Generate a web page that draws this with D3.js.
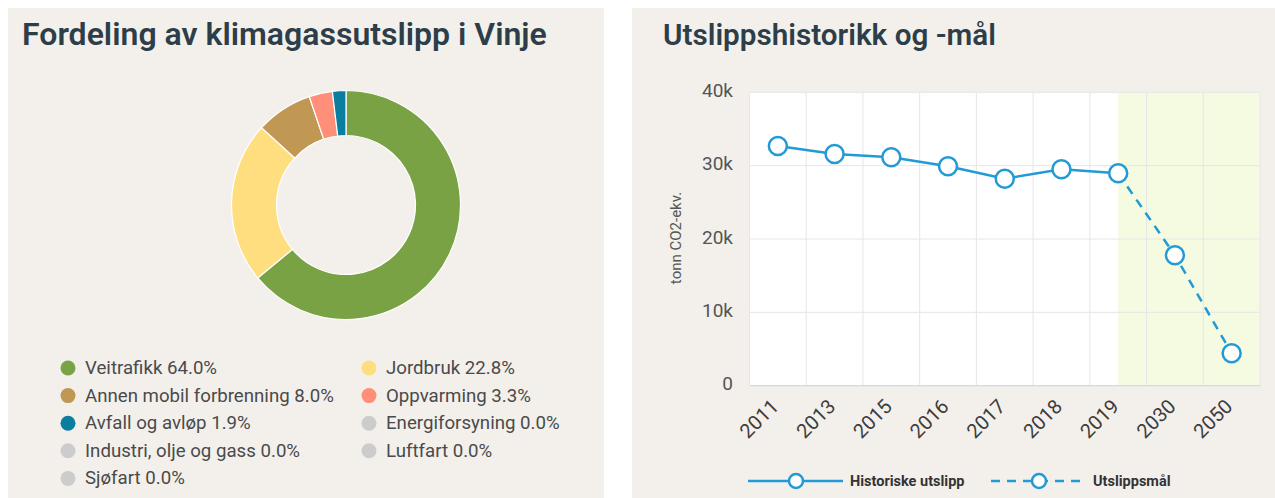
<!DOCTYPE html>
<html><head><meta charset="utf-8">
<script src="https://cdn.jsdelivr.net/npm/d3@7/dist/d3.min.js"></script>
<style>
html,body{margin:0;padding:0;background:#fff;}
svg{display:block;font-family:Roboto,"Noto Sans",sans-serif;}
</style></head>
<body>
<svg id="c" width="1275" height="498"></svg>
<script>
// ---- data ----
const sectors = ["Veitrafikk","Jordbruk","Annen mobil forbrenning","Oppvarming","Avfall og avløp","Energiforsyning","Industri, olje og gass","Luftfart","Sjøfart"];
const sectorShares = [64.0,22.8,8.0,3.3,1.9,0.0,0.0,0.0,0.0];
const sectorColors = ["#78a243","#ffde80","#c09753","#ff8f78","#0b7d9e","#cccccc","#cccccc","#cccccc","#cccccc"];

const years = ["2011","2013","2015","2016","2017","2018","2019","2030","2050"];
const histYears = ["2011","2013","2015","2016","2017","2018","2019"];
const histValues = [32680,31590,31140,29930,28220,29500,28960];
const goalYears = ["2019","2030","2050"];
const goalValues = [28960,17780,4420];
const yTicks = [0,10000,20000,30000,40000];
const seriesNames = ["Historiske utslipp","Utslippsmål"];

const svg = d3.select("#c");
const bg = "#f3f0ec";
const titleColor = "#2e3e48";

// panels
svg.append("rect").attr("x",8).attr("y",8).attr("width",596).attr("height",490).attr("fill",bg);
svg.append("rect").attr("x",632).attr("y",8).attr("width",643).attr("height",490).attr("fill",bg);

function fit(sel, target){
  const w = sel.node().getComputedTextLength();
  const fs = parseFloat(sel.attr("font-size"));
  sel.attr("font-size", fs*target/w);
}

// titles
const t1 = svg.append("text").attr("x",22).attr("y",45).attr("font-size",28).attr("font-weight",600)
  .attr("fill",titleColor).text("Fordeling av klimagassutslipp i Vinje");
fit(t1,525);
const t2 = svg.append("text").attr("x",663).attr("y",45).attr("font-size",28).attr("font-weight",600)
  .attr("fill",titleColor).text("Utslippshistorikk og -mål");
fit(t2,333);

// ---- donut ----
const pieData = sectors.map((s,i)=>({name:s,value:sectorShares[i],color:sectorColors[i]}));
const pie = d3.pie().sort(null).value(d=>d.value);
const arc = d3.arc().innerRadius(69.5).outerRadius(114.5);
const dg = svg.append("g").attr("transform","translate(346,205)");
dg.selectAll("path").data(pie(pieData).filter(d=>d.data.value>0)).join("path")
  .attr("d",arc).attr("fill",d=>d.data.color).attr("stroke","#fff").attr("stroke-width",1.2);

// legend
const lg = svg.append("g");
const colX = [68,369], rowY0 = 368, rowH = 27.6;
const items = lg.selectAll("g").data(pieData).join("g")
  .attr("transform",(d,i)=>`translate(${colX[i%2]},${rowY0+Math.floor(i/2)*rowH})`);
items.append("circle").attr("r",7.5).attr("fill",d=>d.color);
items.append("text").attr("x",17).attr("y",6).attr("font-size",17).attr("fill","#4a4a4a")
  .text(d=>`${d.name} ${d.value.toFixed(1)}%`);
{
  const ref = items.filter((d,i)=>i===2).select("text");
  const w = ref.node().getComputedTextLength();
  const fs = 17*249/w;
  items.selectAll("text").attr("font-size",fs);
}

// ---- line chart ----
const x0 = 749.5, x1 = 1260, yTop = 92.3, yBot = 385.7;
const x = d3.scaleBand().domain(years).range([x0,x1]).padding(0);
const y = d3.scaleLinear().domain([0,40000]).range([yBot,yTop]);
const bw = x.bandwidth();
const cx = d => x(d)+bw/2;

const lc = svg.append("g");
lc.append("rect").attr("x",x0).attr("y",yTop).attr("width",x1-x0).attr("height",yBot-yTop).attr("fill","#fff");
lc.append("rect").attr("x",cx("2019")).attr("y",yTop).attr("width",x1-cx("2019")).attr("height",yBot-yTop).attr("fill","#f5fbe0");

// grid
lc.selectAll("line.hg").data(yTicks).join("line").attr("class","hg")
  .attr("x1",x0).attr("x2",x1).attr("y1",d=>y(d)).attr("y2",d=>y(d)).attr("stroke","#e6e6e6");
lc.selectAll("line.vg").data(years.map(d=>x(d)).concat([x1])).join("line").attr("class","vg")
  .attr("x1",d=>d).attr("x2",d=>d).attr("y1",yTop).attr("y2",yBot).attr("stroke","#e6e6e6");
lc.append("line").attr("x1",x0).attr("x2",x1).attr("y1",yBot).attr("y2",yBot).attr("stroke","#ccd6eb");

// y axis labels
const yAxis = d3.axisLeft(y).tickValues(yTicks).tickSize(0).tickPadding(0)
  .tickFormat(d=> d===0 ? "0" : (d/1000)+"k");
const ya = lc.append("g").attr("transform",`translate(733,0)`).call(yAxis);
ya.select(".domain").remove();
ya.selectAll("text").attr("font-size",19).attr("fill","#555").attr("font-family","Roboto, sans-serif")
  .attr("dy","0.22em");

lc.append("text").attr("transform",`translate(681,238) rotate(-90)`).attr("text-anchor","middle")
  .attr("font-size",15).attr("fill","#555").text("tonn CO2-ekv.");

// x axis labels
const xAxis = d3.axisBottom(x).tickSize(0).tickPadding(0);
const xa = lc.append("g").attr("transform",`translate(0,${yBot})`).call(xAxis);
xa.select(".domain").remove();
xa.selectAll("text").attr("font-size",20).attr("fill","#3d3d3d").attr("font-family","Roboto, sans-serif")
  .attr("text-anchor","end").attr("dy",null).attr("y",null)
  .attr("transform","translate(2,22) rotate(-45)");

// lines
const blue = "#229ad6";
const line = d3.line().x(d=>cx(d[0])).y(d=>y(d[1]));
const hist = histYears.map((d,i)=>[d,histValues[i]]);
const goal = goalYears.map((d,i)=>[d,goalValues[i]]);
lc.append("path").attr("d",line(hist)).attr("fill","none").attr("stroke",blue).attr("stroke-width",2.5);
lc.append("path").attr("d",line(goal)).attr("fill","none").attr("stroke",blue).attr("stroke-width",2.5)
  .attr("stroke-dasharray","9,7");
lc.selectAll("circle.h").data(hist).join("circle").attr("class","h")
  .attr("cx",d=>cx(d[0])).attr("cy",d=>y(d[1])).attr("r",9).attr("fill","#fff").attr("stroke",blue).attr("stroke-width",2.5);
lc.selectAll("circle.g").data(goal.slice(1)).join("circle").attr("class","g")
  .attr("cx",d=>cx(d[0])).attr("cy",d=>y(d[1])).attr("r",9).attr("fill","#fff").attr("stroke",blue).attr("stroke-width",2.5);

// legend
const leg = svg.append("g").attr("transform","translate(0,481)");
const legX = [748, 991];
seriesNames.forEach((n,i)=>{
  const g = leg.append("g").attr("transform",`translate(${legX[i]},0)`);
  g.append("line").attr("x1",0).attr("x2",95).attr("y1",0).attr("y2",0).attr("stroke",blue).attr("stroke-width",2.5)
    .attr("stroke-dasharray", i===1 ? "9,7" : null);
  g.append("circle").attr("cx",48).attr("cy",0).attr("r",7).attr("fill","#fff").attr("stroke",blue).attr("stroke-width",2.5);
  g.append("text").attr("x",102).attr("y",5).attr("font-size",14.5).attr("font-weight",700).attr("fill","#333").text(n);
});
</script>
</body></html>
